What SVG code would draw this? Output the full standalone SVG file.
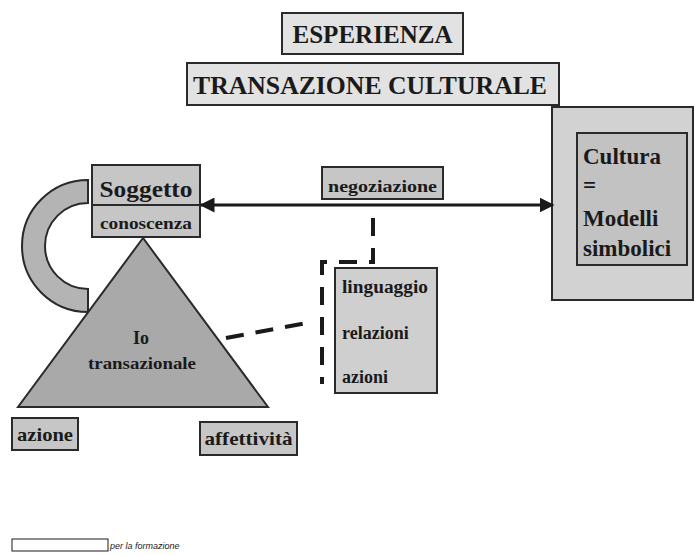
<svg xmlns="http://www.w3.org/2000/svg" width="695" height="556" viewBox="0 0 695 556">
<defs>
<style>
.t{font-family:"Liberation Serif","Times New Roman",serif;font-weight:bold;fill:#1a1a1a}
.box{fill:#c6c6c6;stroke:#2a2a2a;stroke-width:2}
.title{fill:#e2e2e2;stroke:#2a2a2a;stroke-width:2}
.dash{fill:none;stroke:#1a1a1a;stroke-width:4;stroke-dasharray:18 12}
</style>
<marker id="ah" viewBox="0 0 10 10" refX="9" refY="5" markerWidth="5" markerHeight="5" orient="auto-start-reverse">
<path d="M0,0 L10,5 L0,10 Z" fill="#1a1a1a"/>
</marker>
</defs>
<rect width="695" height="556" fill="#ffffff"/>

<g id="esperienza">
<rect class="title" x="282" y="13" width="181" height="41"/>
<text class="t" x="372.5" y="43" font-size="25" text-anchor="middle" textLength="160" lengthAdjust="spacingAndGlyphs">ESPERIENZA</text>
</g>

<g id="transazione">
<rect class="title" x="187" y="63" width="372" height="42"/>
<text class="t" x="370" y="94" font-size="25" text-anchor="middle" textLength="354" lengthAdjust="spacingAndGlyphs">TRANSAZIONE CULTURALE</text>
</g>

<g id="arc">
<path d="M88,180 A66,66 0 0 0 88,312 L88,289 A43,43 0 0 1 88,203 Z" fill="#b4b4b4" stroke="#2a2a2a" stroke-width="2"/>
</g>

<g id="triangle">
<polygon points="143,238 18,407 268,407" fill="#a9a9a9" stroke="#2a2a2a" stroke-width="2"/>
<text class="t" x="141" y="344" font-size="18" text-anchor="middle">Io</text>
<text class="t" x="142" y="369" font-size="17" text-anchor="middle" textLength="108" lengthAdjust="spacingAndGlyphs">transazionale</text>
</g>

<g id="soggetto">
<rect class="box" x="92" y="165" width="108" height="72"/>
<line x1="92" y1="205" x2="200" y2="205" stroke="#2a2a2a" stroke-width="2"/>
<text class="t" x="146" y="197" font-size="24" text-anchor="middle" textLength="93" lengthAdjust="spacingAndGlyphs">Soggetto</text>
<text class="t" x="146" y="229" font-size="17" text-anchor="middle" textLength="92" lengthAdjust="spacingAndGlyphs">conoscenza</text>
</g>

<g id="negoziazione">
<rect class="box" x="322" y="167" width="121" height="32"/>
<text class="t" x="382.5" y="192" font-size="17" text-anchor="middle" textLength="109" lengthAdjust="spacingAndGlyphs">negoziazione</text>
</g>

<g id="cultura">
<rect x="552" y="107" width="141" height="193" fill="#d2d2d2" stroke="#2a2a2a" stroke-width="2"/>
<rect x="577" y="133" width="110" height="132" fill="#c2c2c2" stroke="#2a2a2a" stroke-width="2"/>
<text class="t" x="583" y="164" font-size="23">Cultura</text>
<text class="t" x="583" y="193" font-size="23">=</text>
<text class="t" x="583" y="226" font-size="23">Modelli</text>
<text class="t" x="583" y="256" font-size="23">simbolici</text>
</g>

<g id="linguaggio">
<rect x="335" y="268" width="102" height="125" fill="#cfcfcf" stroke="#2a2a2a" stroke-width="2"/>
<text class="t" x="342" y="293" font-size="18" textLength="86" lengthAdjust="spacingAndGlyphs">linguaggio</text>
<text class="t" x="342" y="339" font-size="18">relazioni</text>
<text class="t" x="342" y="383" font-size="18">azioni</text>
</g>

<g id="azione">
<rect class="box" x="12" y="418" width="66" height="32"/>
<text class="t" x="45" y="441" font-size="19" text-anchor="middle" textLength="56" lengthAdjust="spacingAndGlyphs">azione</text>
</g>

<g id="affettivita">
<rect class="box" x="200" y="422" width="97" height="33"/>
<text class="t" x="248.5" y="445" font-size="19" text-anchor="middle" textLength="88" lengthAdjust="spacingAndGlyphs">affettività</text>
</g>

<g id="connectors">
<line x1="201" y1="205" x2="553" y2="205" stroke="#1a1a1a" stroke-width="3" marker-start="url(#ah)" marker-end="url(#ah)"/>
<path class="dash" d="M373,218 L373,262 L322,262 L322,384"/>
<path class="dash" d="M226,338 L312,322"/>
</g>

<g id="footer">
<rect x="12" y="539" width="96" height="12" fill="none" stroke="#1a1a1a" stroke-width="1"/>
<text x="110" y="549" font-family="Liberation Sans, Arial, sans-serif" font-size="9" font-style="italic" fill="#1a1a1a">per la formazione</text>
</g>
</svg>
